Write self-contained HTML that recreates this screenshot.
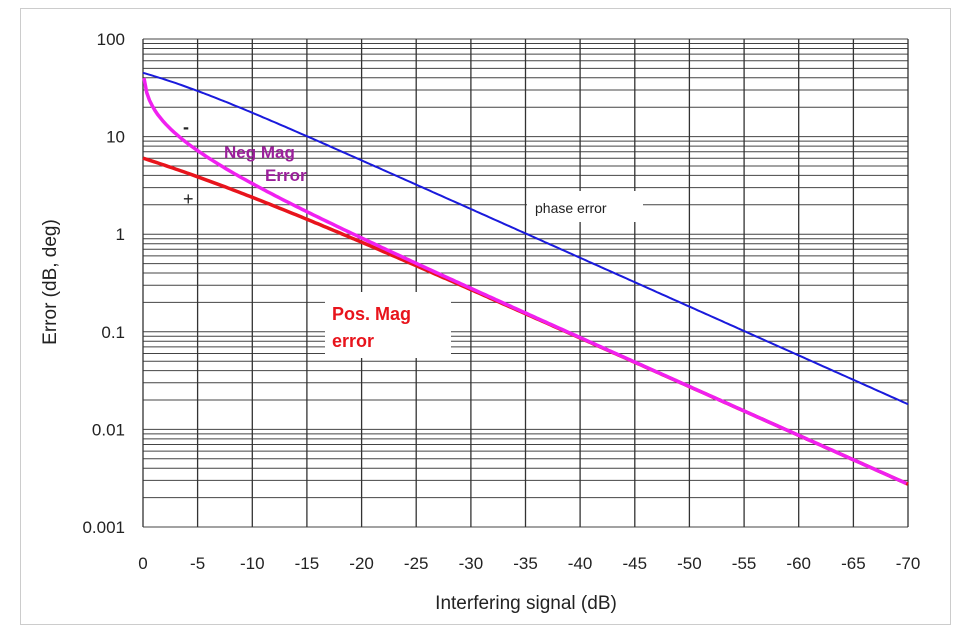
<!DOCTYPE html>
<html><head><meta charset="utf-8"><style>
body{margin:0;background:#fff;}
svg{display:block;font-family:"Liberation Sans",sans-serif;}
</style></head><body>
<svg id="s" width="971" height="630" xmlns="http://www.w3.org/2000/svg">
<rect x="20.5" y="8.5" width="930" height="616" fill="#fff" stroke="#ccc"/>
<g id="grid"></g>
<g id="curves"></g>
<rect x="527" y="191" width="116" height="31" fill="#fff"/>
<text x="535" y="213" font-size="14" font-family="Liberation Sans Narrow,Liberation Sans,sans-serif" fill="#222">phase error</text>
<rect x="325" y="292" width="126" height="66" fill="#fff"/>
<text x="332" y="320" font-size="18" font-weight="bold" fill="#e8141c">Pos. Mag</text>
<text x="332" y="347" font-size="18" font-weight="bold" fill="#e8141c">error</text>
<text x="224" y="158" font-size="17" font-weight="bold" fill="#9b1f9b">Neg Mag</text>
<text x="265" y="181" font-size="17" font-weight="bold" fill="#9b1f9b">Error</text>
<text x="183" y="133" font-size="18" font-weight="bold" fill="#222">-</text>
<text x="183" y="205" font-size="18" fill="#222">+</text>
<text transform="translate(56,282) rotate(-90)" text-anchor="middle" font-size="19" fill="#222">Error (dB, deg)</text>
<text x="526" y="609" text-anchor="middle" font-size="19" fill="#222">Interfering signal (dB)</text>
<g id="labels" font-size="17" fill="#222"></g>
</svg>
<script>
var L=143,R=908,T=39,D=97.6;
function X(db){return L+(R-L)*(-db)/70;}
function Y(v){return T+(2-Math.log10(v))*D;}
var g='',lab='';
for(var e=-3;e<2;e++)for(var k=1;k<10;k++){var y=Y(k*Math.pow(10,e));g+='<line x1="'+L+'" x2="'+R+'" y1="'+y.toFixed(1)+'" y2="'+y.toFixed(1)+'" stroke="#444" stroke-width="1"/>';}
g+='<line x1="'+L+'" x2="'+R+'" y1="'+T+'" y2="'+T+'" stroke="#444"/>';
for(var i=0;i<=14;i++){var x=X(-5*i);g+='<line x1="'+x.toFixed(1)+'" x2="'+x.toFixed(1)+'" y1="'+T+'" y2="'+Y(0.001)+'" stroke="#333" stroke-width="1.3"/>';
lab+='<text x="'+x.toFixed(1)+'" y="569" text-anchor="middle">'+(i==0?'0':'-'+5*i)+'</text>';}
var yl=['100','10','1','0.1','0.01','0.001'];
for(var j=0;j<6;j++)lab+='<text x="125" y="'+(T+j*D+6).toFixed(1)+'" text-anchor="end">'+yl[j]+'</text>';
document.getElementById('grid').innerHTML=g;
document.getElementById('labels').innerHTML=lab;
function path(f,a,col,w){var p='';for(var d=a;d>=-70;d-=0.25){var v=f(Math.pow(10,d/20));p+=(p?'L':'M')+X(d).toFixed(1)+','+Y(v).toFixed(1);}
return '<path d="'+p+'" fill="none" stroke="'+col+'" stroke-width="'+w+'"/>';}
var c='';
c+=path(function(r){return Math.atan(r)*180/Math.PI;},0,'#1a1adc',2);
c+=path(function(r){return 20*Math.log10(1+r);},0,'#e8141c',3.5);
c+=path(function(r){return -20*Math.log10(1-r);},-0.09,'#f020f0',3.5);
document.getElementById('curves').innerHTML=c;
</script>
</body></html>
